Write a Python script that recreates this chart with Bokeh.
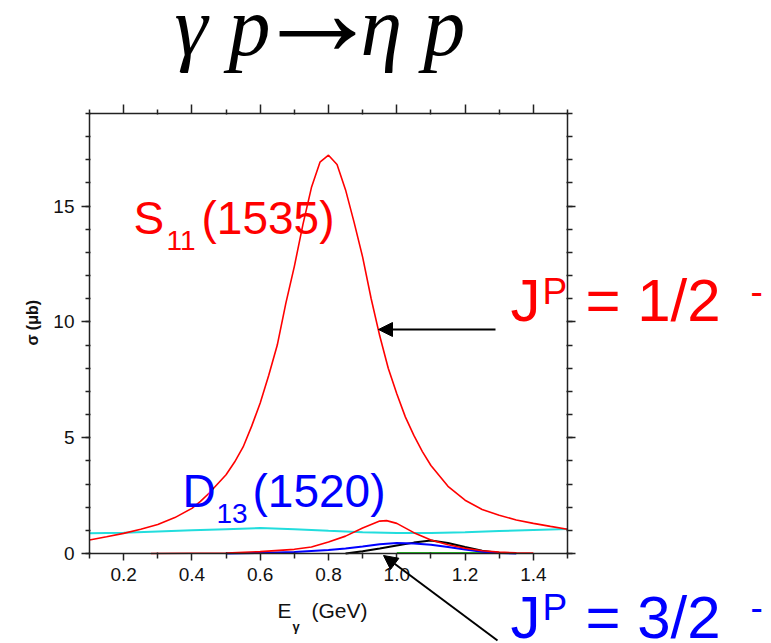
import math
from bokeh.plotting import figure
from bokeh.models import (Range1d, FixedTicker, PrintfTickFormatter, LinearAxis,
                          Label, Arrow, NormalHead, CustomJSTickFormatter)
from bokeh.embed import file_html
from bokeh.resources import INLINE

# ---- data ----
# S11(1535) total (large red)
e_s11 = [0.10, 0.15, 0.20, 0.25, 0.30, 0.35, 0.40, 0.425, 0.45, 0.475, 0.50, 0.525,
         0.55, 0.575, 0.60, 0.625, 0.65, 0.675, 0.70, 0.725, 0.75, 0.775, 0.80,
         0.825, 0.85, 0.875, 0.90, 0.925, 0.95, 0.975, 1.00, 1.025, 1.05, 1.075,
         1.10, 1.15, 1.20, 1.25, 1.30, 1.35, 1.40, 1.45, 1.50]
sig_s11 = [0.58, 0.72, 0.87, 1.05, 1.25, 1.55, 1.95, 2.25, 2.6, 3.0, 3.4, 3.95,
           4.6, 5.5, 6.5, 7.7, 9.0, 10.8, 12.4, 14.2, 15.8, 16.9, 17.2,
           16.8, 15.7, 14.3, 12.8, 11.0, 9.4, 8.0, 6.9, 5.9, 5.1, 4.4,
           3.8, 2.9, 2.3, 1.9, 1.65, 1.45, 1.3, 1.17, 1.05]
# background (cyan)
e_bg = [0.10, 0.20, 0.30, 0.40, 0.50, 0.60, 0.70, 0.80, 0.90, 1.00, 1.10, 1.20,
        1.30, 1.40, 1.50]
sig_bg = [0.87, 0.90, 0.95, 1.00, 1.05, 1.10, 1.05, 0.98, 0.92, 0.88, 0.88, 0.92,
          0.97, 1.02, 1.06]
# second red resonance
e_r2 = [0.28, 0.40, 0.50, 0.60, 0.70, 0.75, 0.80, 0.85, 0.90, 0.95, 0.97, 1.00,
        1.05, 1.10, 1.15, 1.20, 1.25, 1.30, 1.35, 1.40]
sig_r2 = [0.0, 0.01, 0.02, 0.08, 0.18, 0.28, 0.50, 0.75, 1.10, 1.40, 1.42, 1.30,
          0.90, 0.58, 0.38, 0.23, 0.12, 0.06, 0.03, 0.02]
# D13(1520) (blue)
e_d13 = [0.50, 0.60, 0.70, 0.80, 0.85, 0.90, 0.95, 1.00, 1.05, 1.10, 1.15, 1.20,
         1.25, 1.30, 1.35]
sig_d13 = [0.0, 0.02, 0.06, 0.15, 0.22, 0.30, 0.40, 0.45, 0.43, 0.38, 0.28, 0.17,
           0.08, 0.02, 0.0]
# black resonance
e_bk = [0.85, 0.90, 0.95, 1.00, 1.05, 1.10, 1.15, 1.20, 1.25, 1.30]
sig_bk = [0.0, 0.10, 0.22, 0.35, 0.47, 0.56, 0.45, 0.28, 0.12, 0.02]
# green (tiny)
e_gr = [1.00, 1.10, 1.20, 1.28]
sig_gr = [0.02, 0.02, 0.02, 0.02]

x_major = [0.2, 0.4, 0.6, 0.8, 1.0, 1.2, 1.4]
x_minor = [0.1, 0.3, 0.5, 0.7, 0.9, 1.1, 1.3, 1.5]
y_major = [0, 5, 10, 15]
y_minor = list(range(0, 20))

RED = "#ff0000"
BLUE = "#0000ff"

# ---- layout: plotting box inside a full-canvas frame ----
W, H = 771, 643
L, R, T, B = 89, 567, 113, 553
X0, X1, Y0, Y1 = 0.1, 1.5, 0.0, 19.0
sx = (R - L) / (X1 - X0)
sy = (B - T) / (Y1 - Y0)

p = figure(width=W, height=H,
           x_range=Range1d(X0 - L / sx, X1 + (W - R) / sx),
           y_range=Range1d(Y0 - (H - B) / sy, Y1 + T / sy),
           x_axis_type=None, y_axis_type=None,
           output_backend="svg", toolbar_location=None,
           min_border_left=0, min_border_right=0, min_border_top=0,
           min_border_bottom=0)
p.xgrid.visible = False
p.ygrid.visible = False
p.outline_line_color = None
p.background_fill_color = "white"
p.border_fill_color = "white"

p.line(e_bg, sig_bg, color="#22dddd", line_width=2)
p.line(e_gr, sig_gr, color="#22cc22", line_width=2)
p.line(e_bk, sig_bk, color="black", line_width=2)
p.line(e_d13, sig_d13, color=BLUE, line_width=2)
p.line(e_r2, sig_r2, color=RED, line_width=1.6)
p.line(e_s11, sig_s11, color=RED, line_width=1.6)


def make_axis(loc, bounds, ticks, minor, maj_out, min_out, labels, fmt=None):
    ax = LinearAxis(fixed_location=loc, bounds=bounds,
                    ticker=FixedTicker(ticks=ticks, minor_ticks=minor))
    ax.axis_line_color = "#222222"
    ax.axis_line_width = 1.5
    ax.major_tick_line_color = "#222222"
    ax.minor_tick_line_color = "#222222"
    ax.major_tick_line_width = 1.5
    ax.minor_tick_line_width = 1.5
    ax.major_tick_out = maj_out
    ax.major_tick_in = 0
    ax.minor_tick_out = min_out
    ax.minor_tick_in = 1
    ax.major_label_text_font = "Liberation Sans"
    ax.major_label_text_font_size = "19px"
    ax.major_label_text_color = "#111111"
    ax.major_label_standoff = 7
    if labels:
        if fmt is not None:
            ax.formatter = fmt
    else:
        ax.formatter = CustomJSTickFormatter(code="return ''")
        ax.major_label_standoff = 0
    return ax


p.add_layout(make_axis(Y0, (X0, X1), x_major, x_minor, 7, 5, True,
                       PrintfTickFormatter(format="%.1f")), "below")
p.add_layout(make_axis(X0, (Y0, Y1), y_major, y_minor, 8, 4, True), "left")
p.add_layout(make_axis(Y1, (X0, X1), x_major, x_minor, 9, 4, False), "above")
p.add_layout(make_axis(X1, (Y0, Y1), y_major, y_minor, 8, 5, False), "right")

K = 0.38  # baseline correction for the svg text placement


def lab(text, px, py, size, color, font="Liberation Sans", style_="normal",
        align="left", angle=0.0, baseline="alphabetic"):
    y = py - K * size if baseline == "alphabetic" else py
    p.add_layout(Label(x=px, y=y, x_units="canvas", y_units="canvas", text=text,
                       text_font=font, text_font_size=f"{size}px", text_color=color,
                       text_font_style=style_, text_baseline=baseline,
                       text_align=align, angle=angle))

# title
lab("γ p", 270, 58, 84, "black", font="Liberation Serif", style_="italic",
    align="right")
lab("→", 317, 60, 128, "black", font="Liberation Serif", style_="bold",
    align="center")
lab("η p", 360, 58, 84, "black", font="Liberation Serif", style_="italic")

# axis labels
lab("E", 277, 618, 21, "#111111")
lab("γ", 292, 631, 13, "#111111", style_="bold")
lab("(GeV)", 311, 618, 21, "#111111")
lab("σ  (μb)", 32, 320, 16, "#111111", style_="bold", align="center",
    angle=math.pi / 2, baseline="middle")

# resonance labels
lab("S", 133, 235, 46, RED)
lab("11", 166, 251, 28, RED)
lab("(1535)", 201, 235, 46, RED)

lab("D", 182, 508, 46, BLUE)
lab("13", 216, 524, 28, BLUE)
lab("(1520)", 252, 508, 46, BLUE)

lab("J", 510, 323, 60, RED)
lab("P", 542, 305, 37, RED)
lab("= 1/2", 585, 323, 60, RED)
lab("-", 750, 305, 37, RED)

lab("J", 510, 640, 60, BLUE)
lab("P", 542, 621, 37, BLUE)
lab("= 3/2", 585, 640, 60, BLUE)
lab("-", 750, 621, 37, BLUE)

for (x0, y0, x1, y1) in [(495, 329, 378, 329), (497, 640, 383, 555)]:
    p.add_layout(Arrow(end=NormalHead(size=14, fill_color="black", line_color="black"),
                       x_start=x0, y_start=y0, x_end=x1, y_end=y1,
                       start_units="canvas", end_units="canvas",
                       line_color="black", line_width=2))

open("out.html", "w").write(file_html(p, INLINE))
